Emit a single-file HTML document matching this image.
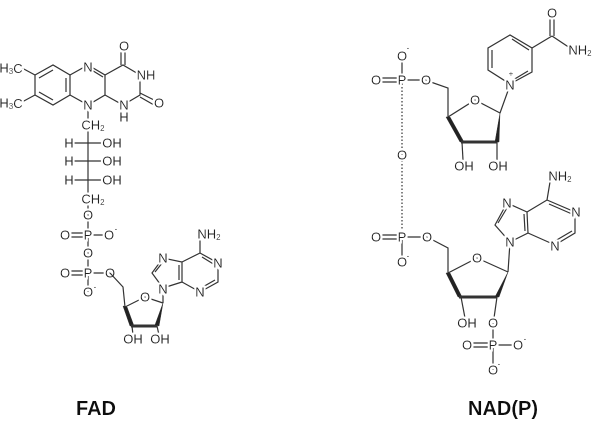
<!DOCTYPE html>
<html><head><style>
body{margin:0;background:#fff;}
svg{display:block;}
text{font-family:"Liberation Sans",sans-serif;font-size:13px;fill:#222;text-anchor:middle;dominant-baseline:central;filter:url(#halo);}
.s{font-size:8px;}
.l{font-size:20px;font-weight:bold;fill:#111;dominant-baseline:auto;}
line,polyline,polygon{stroke:#333;stroke-width:1.2;fill:none;}
.d{stroke-dasharray:1.5 2;}
.w{fill:#222;stroke-width:0.5;}
</style></head><body>
<svg width="600" height="423" viewBox="0 0 600 423">
<defs>
<filter id="halo" x="-30%" y="-30%" width="160%" height="160%">
<feMorphology in="SourceAlpha" operator="dilate" radius="2" result="d"/>
<feFlood flood-color="#fff"/>
<feComposite in2="d" operator="in" result="bg"/>
<feMerge><feMergeNode in="bg"/><feMergeNode in="SourceGraphic"/></feMerge>
</filter>
</defs>
<!-- FAD flavin -->
<polyline points="35,75 53,65 70,75 70,95 53,105 35,95 35,75"/>
<line x1="39" y1="78" x2="53" y2="70"/><line x1="66" y1="78" x2="66" y2="92"/><line x1="39" y1="92" x2="53" y2="100"/>
<polyline points="70,75 88,65 105,75 105,95 88,105 70,95"/>
<line x1="90" y1="69" x2="103" y2="77"/>
<polyline points="105,75 123,65 140,75 140,95 123,105 105,95"/>
<line x1="121" y1="65" x2="121" y2="47"/><line x1="125" y1="65" x2="125" y2="47"/>
<line x1="140" y1="93" x2="156" y2="101"/><line x1="140" y1="97" x2="154" y2="105"/>
<line x1="35" y1="75" x2="22" y2="68"/><line x1="35" y1="95" x2="22" y2="102"/>
<line x1="88" y1="105" x2="88" y2="196"/>
<line x1="70" y1="143" x2="105" y2="143"/><line x1="70" y1="161" x2="105" y2="161"/><line x1="70" y1="180" x2="105" y2="180"/>
<line x1="88" y1="200" x2="88" y2="292"/>
<line x1="67" y1="233" x2="88" y2="233"/><line x1="67" y1="237" x2="88" y2="237"/>
<line x1="88" y1="235" x2="108" y2="235"/>
<line x1="67" y1="271" x2="88" y2="271"/><line x1="67" y1="275" x2="88" y2="275"/>
<line x1="88" y1="273" x2="110" y2="273"/>
<text x="11" y="68">H<tspan class="s" dy="3">3</tspan><tspan dy="-3">C</tspan></text>
<text x="11" y="103">H<tspan class="s" dy="3">3</tspan><tspan dy="-3">C</tspan></text>
<text x="88" y="67">N</text><text x="88" y="105">N</text>
<text x="124" y="46">O</text><text x="146" y="75">NH</text><text x="159" y="103">O</text>
<text x="124" y="105">N</text><text x="124" y="117">H</text>
<text x="93" y="125">CH<tspan class="s" dy="3">2</tspan></text>
<text x="69" y="143">H</text><text x="69" y="161">H</text><text x="69" y="180">H</text>
<text x="112" y="143">OH</text><text x="112" y="161">OH</text><text x="112" y="180">OH</text>
<text x="93" y="199">CH<tspan class="s" dy="3">2</tspan></text>
<text x="88" y="215">O</text><text x="88" y="235">P</text><text x="65" y="235">O</text><text x="109" y="235">O</text><text class="s" x="116" y="229">-</text>
<text x="88" y="253">O</text><text x="88" y="273">P</text><text x="65" y="273">O</text><text x="88" y="292">O</text><text class="s" x="95" y="287">-</text>
<text x="110" y="273">O</text>
<!-- FAD ribose -->
<polyline points="110,273 123,287 125,307 145,297 163,303"/>
<polygon class="w" points="123,306 127,307 134,326 130,326"/>
<line x1="131" y1="326" x2="157" y2="326" style="stroke-width:3"/>
<polygon class="w" points="163,303 155,325 159,326"/>
<line x1="132" y1="326" x2="133" y2="335"/><line x1="157" y1="326" x2="159" y2="335"/>
<text x="145" y="297">O</text>
<text x="133" y="339">OH</text><text x="160" y="339">OH</text>
<line x1="163" y1="303" x2="163" y2="288"/>
<polyline points="163,288 152,273 163,258 182,262 182,282 163,288"/>
<line x1="155" y1="272" x2="163" y2="262"/><line x1="179" y1="265" x2="179" y2="280"/>
<polyline points="182,262 200,253 218,263 218,282 200,292 182,282"/>
<line x1="200" y1="253" x2="200" y2="240"/><line x1="215" y1="280" x2="201" y2="288"/><line x1="202" y1="257" x2="215" y2="265"/>
<text x="163" y="258">N</text><text x="163" y="289">N</text><text x="218" y="263">N</text><text x="200" y="292">N</text>
<text x="209" y="234">NH<tspan class="s" dy="3">2</tspan></text>
<!-- NAD top -->
<line x1="375" y1="78" x2="402" y2="78"/><line x1="375" y1="82" x2="402" y2="82"/>
<line x1="402" y1="58" x2="402" y2="80"/><line x1="402" y1="80" x2="425" y2="80"/>
<line class="d" x1="402" y1="80" x2="402" y2="237"/>
<polyline points="425,80 448,88 448,117 475,100 500,113"/>
<polygon class="w" points="446,117 450,117 464,142 460,142"/>
<line x1="461" y1="142" x2="497" y2="142" style="stroke-width:3"/>
<polygon class="w" points="500,113 495,142 499,142"/>
<line x1="462" y1="142" x2="463" y2="160"/><line x1="497" y1="142" x2="497" y2="160"/>
<text x="464" y="166">OH</text><text x="498" y="166">OH</text>
<line x1="500" y1="113" x2="509" y2="88"/>
<polyline points="510,84 488,70 488,48 510,35 532,48 532,72 510,84"/>
<line x1="492" y1="50" x2="492" y2="68"/><line x1="512" y1="39" x2="529" y2="50"/><line x1="528" y1="71" x2="513" y2="80"/>
<line x1="532" y1="48" x2="552" y2="36"/><line x1="550" y1="36" x2="550" y2="14"/><line x1="554" y1="36" x2="554" y2="14"/><line x1="552" y1="36" x2="570" y2="48"/>
<text x="402" y="56">O</text><text class="s" x="408" y="48">-</text>
<text x="402" y="80">P</text><text x="376" y="80">O</text><text x="426" y="80">O</text>
<text x="402" y="155">O</text>
<text x="475" y="100">O</text>
<text x="510" y="85">N</text><text class="s" x="511" y="74">+</text>
<text x="552" y="13">O</text><text x="580" y="50">NH<tspan class="s" dy="3">2</tspan></text>
<!-- NAD bottom -->
<line x1="375" y1="235" x2="402" y2="235"/><line x1="375" y1="239" x2="402" y2="239"/>
<line x1="402" y1="237" x2="402" y2="260"/><line x1="402" y1="237" x2="427" y2="237"/>
<polyline points="427,237 448,248 448,273 477,258 508,272"/>
<polygon class="w" points="446,273 450,273 462,297 458,297"/>
<line x1="459" y1="297" x2="497" y2="297" style="stroke-width:3"/>
<polygon class="w" points="508,272 495,297 499,297"/>
<line x1="461" y1="297" x2="465" y2="318"/><line x1="497" y1="297" x2="494" y2="318"/>
<line x1="493" y1="323" x2="493" y2="370"/>
<line x1="467" y1="343" x2="493" y2="343"/><line x1="467" y1="347" x2="493" y2="347"/><line x1="493" y1="345" x2="517" y2="345"/>
<line x1="508" y1="272" x2="510" y2="242"/>
<polyline points="510,242 495,225 507,203 527,212 528,233 510,242"/>
<line x1="498" y1="223" x2="507" y2="208"/><line x1="524" y1="214" x2="525" y2="231"/>
<polyline points="527,212 547,200 575,212 575,233 555,245 528,233"/>
<line x1="547" y1="200" x2="550" y2="182"/><line x1="549" y1="204" x2="572" y2="214"/><line x1="572" y1="231" x2="555" y2="241"/>
<text x="376" y="237">O</text><text x="402" y="237">P</text><text x="427" y="237">O</text>
<text x="402" y="262">O</text><text class="s" x="408" y="256">-</text>
<text x="477" y="258">O</text>
<text x="510" y="242">N</text><text x="507" y="203">N</text><text x="576" y="212">N</text><text x="555" y="246">N</text>
<text x="560" y="176">NH<tspan class="s" dy="3">2</tspan></text>
<text x="467" y="323">OH</text><text x="493" y="323">O</text>
<text x="493" y="345">P</text><text x="467" y="345">O</text><text x="518" y="345">O</text><text class="s" x="525" y="339">-</text>
<text x="493" y="370">O</text><text class="s" x="499" y="364">-</text>
<!-- labels -->
<text class="l" x="96" y="415">FAD</text>
<text class="l" x="503" y="415">NAD(P)</text>
</svg>
</body></html>
